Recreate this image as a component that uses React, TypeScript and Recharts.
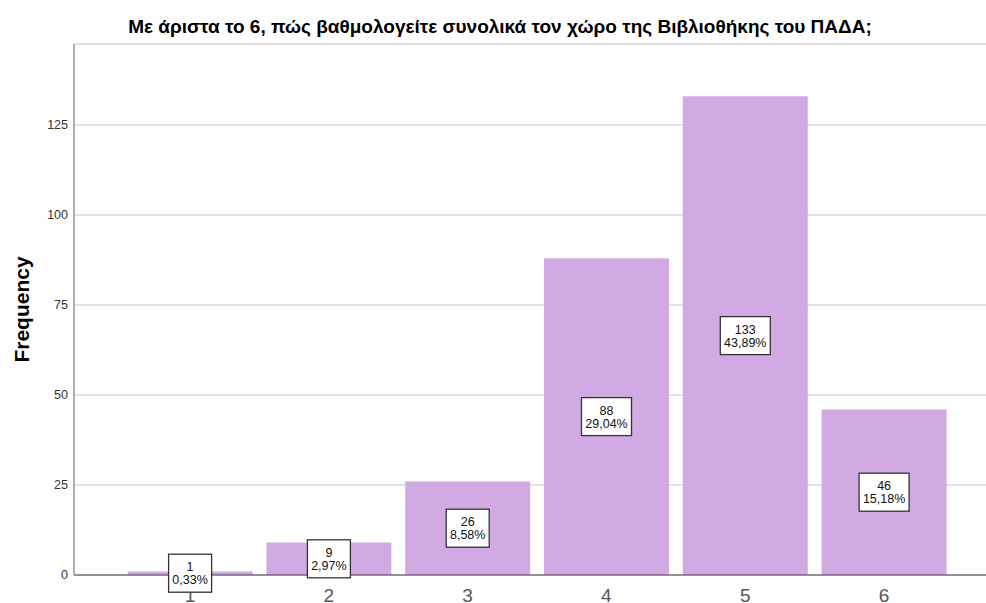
import React from 'react';
import { BarChart, Bar, XAxis, YAxis, CartesianGrid, LabelList } from 'recharts';

const categories = ['1', '2', '3', '4', '5', '6'];
const frequencies = [1, 9, 26, 88, 133, 46];
const percentLabels = ['0,33%', '2,97%', '8,58%', '29,04%', '43,89%', '15,18%'];
const yTicks = [0, 25, 50, 75, 100, 125];
const title = 'Με άριστα το 6, πώς βαθμολογείτε συνολικά τον χώρο της Βιβλιοθήκης του ΠΑΔΑ;';
const yLabel = 'Frequency';

const data = categories.map((c, i) => ({ category: c, frequency: frequencies[i] }));

const FONT = '"Liberation Sans", Arial, Helvetica, sans-serif';
const BAR_COLOR = '#D1AAE4';

const BoxLabel = (props: any) => {
  const { x, y, width, height, index } = props;
  if (x == null || index == null) return null;
  const cx = Number(x) + Number(width) / 2;
  const cy = Number(y) + Number(height) / 2;
  const l1 = String(frequencies[index]);
  const l2 = percentLabels[index];
  const chars = Math.max(l1.length, l2.length);
  const w = chars * 7 + 8;
  const h = 38;
  return (
    <g>
      <rect x={cx - w / 2} y={cy - h / 2} width={w} height={h} fill="#ffffff" stroke="#333333" strokeWidth={1.3} />
      <text x={cx} y={cy - 2} textAnchor="middle" fontSize={12.5} fill="#111" fontFamily={FONT}>{l1}</text>
      <text x={cx} y={cy + 11} textAnchor="middle" fontSize={12.5} fill="#111" fontFamily={FONT}>{l2}</text>
    </g>
  );
};

const XTick = (props: any) => {
  const { x, payload } = props;
  return (
    <text x={x} y={602} textAnchor="middle" fontSize={19} fill="#555" fontFamily={FONT}>
      {payload.value}
    </text>
  );
};

const YLabel = () => {
  return (
    <text
      x={0}
      y={0}
      transform={`translate(29, 309.5) rotate(-90)`}
      textAnchor="middle"
      fontSize={21}
      fontWeight="bold"
      fill="#000"
      fontFamily={FONT}
    >
      {yLabel}
    </text>
  );
};

export default function App() {
  return (
    <div style={{ position: 'absolute', left: 0, top: 0, width: 986, height: 603, background: '#fff', overflow: 'hidden' }}>
      <div
        style={{
          position: 'absolute',
          left: 500,
          top: 17,
          transform: 'translateX(-50%)',
          whiteSpace: 'nowrap',
          fontFamily: FONT,
          fontWeight: 'bold',
          fontSize: 19,
          lineHeight: '19px',
          color: '#000',
        }}
      >
        {title}
      </div>
      <BarChart
        width={986}
        height={603}
        data={data}
        margin={{ top: 44, right: 0, bottom: 0, left: 0 }}
        barCategoryGap={7}
      >
        <CartesianGrid horizontal={true} vertical={false} stroke="#c4c4c4" strokeWidth={1} />
        <XAxis
          dataKey="category"
          height={28}
          padding={{ left: 46.6, right: 32.6 }}
          axisLine={{ stroke: '#444', strokeWidth: 1 }}
          tickLine={false}
          tick={<XTick />}
          interval={0}
        />
        <YAxis
          width={74}
          domain={[0, 147.5]}
          ticks={yTicks}
          allowDataOverflow={true}
          axisLine={{ stroke: '#999', strokeWidth: 1.5 }}
          tickLine={false}
          tickSize={6}
          tickMargin={0}
          tick={{ fontSize: 12.5, fill: '#333', fontFamily: FONT }}
          label={<YLabel />}
        />
        <Bar dataKey="frequency" fill={BAR_COLOR} isAnimationActive={false}>
          <LabelList dataKey="frequency" content={<BoxLabel />} />
        </Bar>
      </BarChart>
    </div>
  );
}
